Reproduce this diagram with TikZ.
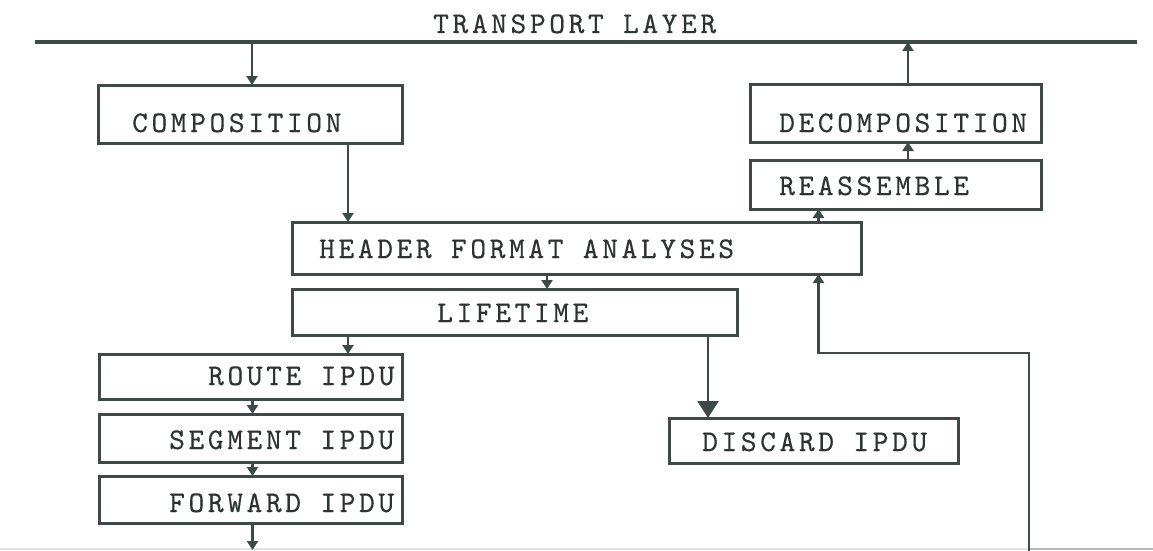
\documentclass[tikz,border=0pt]{standalone}
\usepackage{fontspec}
\newfontfamily\tw{lmmono10-regular.otf}[LetterSpace=12, FakeBold=0.4]
\usetikzlibrary{arrows.meta}
\definecolor{ink}{RGB}{62,74,71}
\definecolor{txt}{RGB}{45,50,50}
\tikzset{
  box/.style={draw=ink, line width=3pt, inner sep=0pt, outer sep=0pt, rectangle},
  lbl/.style={anchor=base west, inner sep=0pt, text=txt, font=\tw\fontsize{30}{30}\selectfont},
  conn/.style={draw=ink, line width=2.4pt},
  arr/.style={conn, -{Triangle[length=9pt,width=11pt]}},
  bigarr/.style={conn, -{Triangle[length=17pt,width=21pt]}},
}
\begin{document}
\begin{tikzpicture}[x=1pt,y=-1pt]
\useasboundingbox (0,0) rectangle (1153,551);
% transport layer line
\coordinate (L1) at (35,42);
\coordinate (L2) at (1137,42);
\draw[ink, line width=3.5pt] (L1) -- (L2);
\node[lbl] (tl) at (433,33) {TRANSPORT LAYER};
% faint bottom line
\coordinate (BL) at (0,549);
\coordinate (BM) at (1029,549);
\coordinate (BR) at (1153,549);
\draw[ink!15, line width=2pt] (BL) -- (BM);
\draw[ink!40, line width=2pt] (BM) -- (BR);
% boxes
\node[box, minimum width=304, minimum height=58] (comp) at (250,114) {};
\node[box, minimum width=291, minimum height=58] (decomp) at (895.5,113) {};
\node[box, minimum width=291, minimum height=49] (reas) at (895.5,184.5) {};
\node[box, minimum width=569, minimum height=52] (hdr) at (576.5,248) {};
\node[box, minimum width=445, minimum height=46] (life) at (514.5,312) {};
\node[box, minimum width=303, minimum height=45] (route) at (250.5,376.5) {};
\node[box, minimum width=303, minimum height=48] (seg) at (250.5,438) {};
\node[box, minimum width=303, minimum height=47] (fwd) at (250.5,499.5) {};
\node[box, minimum width=289, minimum height=45] (disc) at (813.5,440.5) {};
% labels
\node[lbl] (tcomp) at (132,132) {COMPOSITION};
\node[lbl] (tdecomp) at (779,132) {DECOMPOSITION};
\node[lbl] (treas) at (779,195) {REASSEMBLE};
\node[lbl] (thdr) at (319,258) {HEADER FORMAT ANALYSES};
\node[lbl] (tlife) at (437,322) {LIFETIME};
\node[lbl] (troute) at (208,385) {ROUTE IPDU};
\node[lbl] (tseg) at (169,449) {SEGMENT IPDU};
\node[lbl] (tfwd) at (169,512) {FORWARD IPDU};
\node[lbl] (tdisc) at (702,451) {DISCARD IPDU};
% connectors
\draw[arr] ([xshift=2]comp.north |- L1) -- ([xshift=2]comp.north);
\draw[arr] ([xshift=98]comp.south) -- ([xshift=98]comp.south |- hdr.north);
\draw[arr] ([xshift=12.5]decomp.north) -- ([xshift=12.5]decomp.north |- L1);
\draw[arr] ([xshift=12.5]reas.north) -- ([xshift=12.5]reas.north |- decomp.south);
\draw[arr] ([xshift=-77]reas.south |- hdr.north) -- ([xshift=-77]reas.south);
\draw[arr] ([xshift=-29.5]hdr.south) -- ([xshift=-29.5]hdr.south |- life.north);
\draw[arr] ([xshift=-166.5]life.south) -- ([xshift=-166.5]life.south |- route.north);
\draw[bigarr] ([xshift=193.5]life.south) -- ([xshift=193.5]life.south |- disc.north);
\draw[arr] ([xshift=2]route.south) -- ([xshift=2]seg.north);
\draw[arr] ([xshift=2]seg.south) -- ([xshift=2]fwd.north);
\coordinate (B1) at (252.5,550);
\draw[arr] ([xshift=2]fwd.south) -- (B1);
\coordinate (R0) at (1029,551);
\coordinate (R1) at (1029,353);
\draw[arr] (R0) -- (R1) -| ([xshift=-77]reas.south |- hdr.south);
\end{tikzpicture}
\end{document}
